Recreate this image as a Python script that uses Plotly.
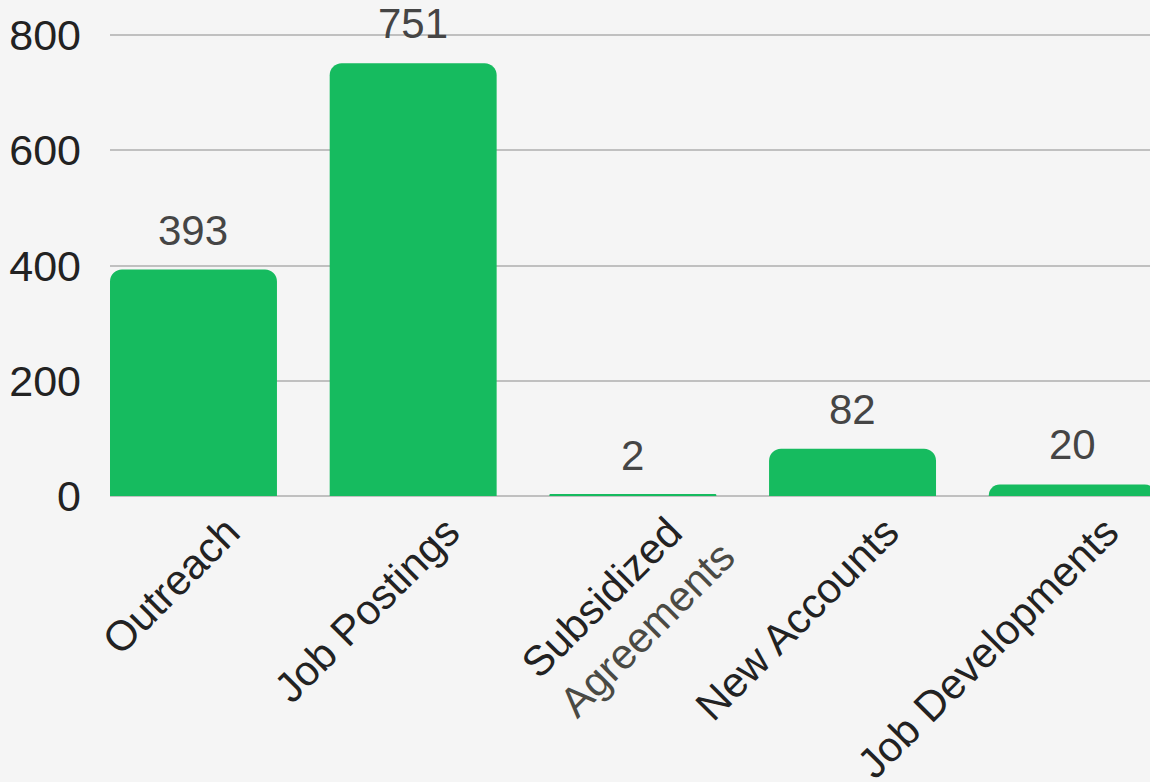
import plotly.graph_objects as go

categories = ["Outreach", "Job Postings", "Subsidized Agreements", "New Accounts", "Job Developments"]
tick_labels = ["Outreach", "Job Postings", "", "New Accounts", "Job Developments"]
wrapped_label = "Subsidized\u00a0\u2009<br><span style='color:#4a4a44'>Agreements</span>"
values = [393, 751, 2, 82, 20]
y_ticks = [0, 200, 400, 600, 800]

BAR = "#16bb5f"
FONT = "Liberation Sans, Arial, sans-serif"

idx = list(range(len(categories)))

fig = go.Figure()
fig.add_trace(go.Bar(
    x=idx,
    y=values,
    marker=dict(color=BAR, cornerradius=12, line=dict(width=0)),
    hoverinfo="skip",
))
# helper (invisible) trace so the second label axis is drawn
fig.add_trace(go.Scatter(
    x=[idx[2]], y=[0], xaxis="x2", mode="markers",
    marker=dict(opacity=0), hoverinfo="skip",
))

for i, v in enumerate(values):
    fig.add_annotation(
        x=i, y=v, text=str(v), showarrow=False,
        yanchor="bottom", yshift=14,
        font=dict(family=FONT, size=42, color="#454545"),
    )

xrange = [-0.38, 4.354]

fig.update_layout(
    width=1150, height=782,
    margin=dict(l=110, r=0, t=33, b=286, autoexpand=False),
    paper_bgcolor="#f5f5f5",
    plot_bgcolor="#f5f5f5",
    bargap=0.24,
    showlegend=False,
    font=dict(family=FONT, size=42, color="#222222"),
    xaxis=dict(
        tickmode="array",
        tickvals=idx,
        ticktext=tick_labels,
        tickangle=-45,
        range=xrange,
        showgrid=False,
        zeroline=False,
        showline=False,
        automargin=False,
        ticklabelshift=34,
        ticklabelstandoff=2,
        tickfont=dict(family=FONT, size=42, color="#222222"),
    ),
    xaxis2=dict(
        overlaying="x",
        anchor="y",
        side="bottom",
        tickmode="array",
        tickvals=[idx[2]],
        ticktext=[wrapped_label],
        tickangle=-45,
        range=xrange,
        showgrid=False,
        zeroline=False,
        showline=False,
        automargin=False,
        ticklabelshift=51,
        ticklabelstandoff=-12,
        tickfont=dict(family=FONT, size=42, color="#222222"),
    ),
    yaxis=dict(
        range=[0, 803.5],
        tickvals=y_ticks,
        showgrid=True,
        gridcolor="#c0c0c0",
        gridwidth=2,
        zeroline=True,
        zerolinecolor="#c0c0c0",
        zerolinewidth=2,
        automargin=False,
        ticklabelstandoff=28,
        tickfont=dict(family=FONT, size=43, color="#222222"),
    ),
)

fig.write_html(
    "out.html",
    config={"displayModeBar": False},
    post_script="document.body.style.margin='0';document.body.style.background='#f5f5f5';",
)
